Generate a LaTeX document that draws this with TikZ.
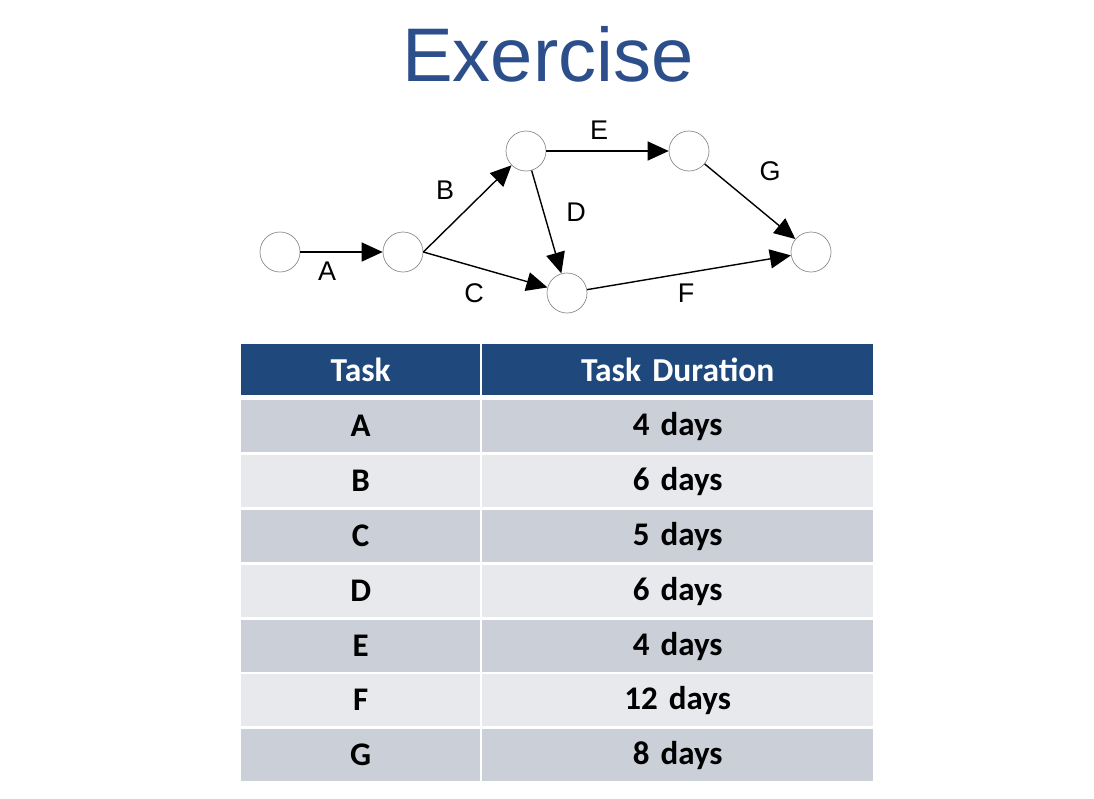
\documentclass[tikz,border=0pt]{standalone}
\usepackage{fontspec}
\setmainfont{Liberation Sans}
\newfontfamily\cellfont{Carlito}
\usetikzlibrary{arrows.meta}
\definecolor{titleblue}{HTML}{2C4F8C}
\definecolor{headblue}{HTML}{1F497D}
\definecolor{banddark}{HTML}{CBCFD8}
\definecolor{bandlight}{HTML}{E8E9ED}
\tikzset{
  event/.style={circle, draw=black!45, line width=0.7pt, fill=white, minimum size=40pt, inner sep=0pt},
  activity/.style={line width=1.4pt, -{Triangle[length=21pt,width=19pt]}},
  actlabel/.style={font=\fontsize{27}{30}\selectfont, inner sep=0pt},
  cell/.style={rectangle, inner sep=0pt, anchor=north west, font=\cellfont\bfseries\fontsize{33}{36}\selectfont},
  headcell/.style={cell, fill=headblue, text=white, minimum height=51pt, font=\cellfont\bfseries\fontsize{33.5}{36}\selectfont},
  darkcell/.style={cell, fill=banddark, minimum height=52pt},
  lightcell/.style={cell, fill=bandlight, minimum height=52pt},
  taskcol/.style={minimum width=239pt, text width=239pt, align=center},
  durcol/.style={minimum width=391pt, text width=391pt, align=center}
}
\begin{document}
\begin{tikzpicture}[x=1pt, y=-1pt]
\useasboundingbox[fill=white] (0,0) rectangle (1094,798);

% title
\node[text=titleblue, font=\fontsize{76}{82}\selectfont, inner sep=0pt] (title) at (548,54) {Exercise};

% activity network
\node[event] (n1) at (280,252) {};
\node[event] (n2) at (403,252) {};
\node[event] (n3) at (526,151) {};
\node[event] (n4) at (689,151) {};
\node[event] (n5) at (567,293) {};
\node[event] (n6) at (811,252) {};

\draw[activity] (n1) -- (n2);
\draw[activity] (n2.east) -- (n3);
\draw[activity] (n2.east) -- (n5);
\draw[activity] (n3) -- (n5);
\draw[activity] (n3) -- (n4);
\draw[activity] (n5) -- (n6);
\draw[activity] (n4) -- (n6);

\node[actlabel] (la) at (327,271) {A};
\node[actlabel] (lb) at (445,190) {B};
\node[actlabel] (lc) at (474,293) {C};
\node[actlabel] (ld) at (576,212) {D};
\node[actlabel] (le) at (599,130) {E};
\node[actlabel] (lf) at (686,293) {F};
\node[actlabel] (lg) at (770,171) {G};

% duration table
\node[headcell, taskcol] (h1) at (241,344) {Task};
\node[headcell, durcol] (h2) at (482,344) {Task Duration};

\node[darkcell, taskcol] (a1) at (241,400) {A};
\node[darkcell, durcol] (a2) at (482,400) {4 days};
\node[lightcell, taskcol] (b1) at (241,455) {B};
\node[lightcell, durcol] (b2) at (482,455) {6 days};
\node[darkcell, taskcol] (c1) at (241,510) {C};
\node[darkcell, durcol] (c2) at (482,510) {5 days};
\node[lightcell, taskcol] (d1) at (241,565) {D};
\node[lightcell, durcol] (d2) at (482,565) {6 days};
\node[darkcell, taskcol] (e1) at (241,620) {E};
\node[darkcell, durcol] (e2) at (482,620) {4 days};
\node[lightcell, taskcol] (f1) at (241,674) {F};
\node[lightcell, durcol] (f2) at (482,674) {12 days};
\node[darkcell, taskcol] (g1) at (241,729) {G};
\node[darkcell, durcol] (g2) at (482,729) {8 days};
\end{tikzpicture}
\end{document}
